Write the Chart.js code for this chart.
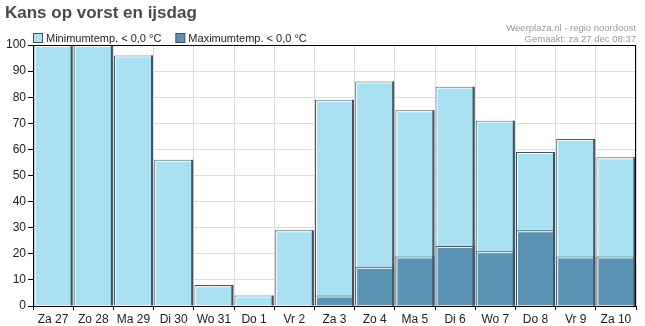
<!DOCTYPE html>
<html>
<head>
<meta charset="utf-8">
<style>
  html, body { margin: 0; padding: 0; background: #fff; }
  #vorstChart { display: block; }
</style>
<script src="https://cdn.jsdelivr.net/npm/chart.js@4"></script>
</head>
<body>
<canvas id="vorstChart" width="645" height="326"></canvas>
<script>
// dagen en kansen (%)
const days = ['Za 27', 'Zo 28', 'Ma 29', 'Di 30', 'Wo 31', 'Do 1', 'Vr 2', 'Za 3',
              'Zo 4', 'Ma 5', 'Di 6', 'Wo 7', 'Do 8', 'Vr 9', 'Za 10'];
const kansVorst  = [100, 100, 96, 56, 8, 4, 29, 79, 86, 75, 84, 71, 59, 64, 57];
const kansIjsdag = [0, 0, 0, 0, 0, 0, 0, 4, 15, 19, 23, 21, 29, 19, 19];
const yTicks = [0, 10, 20, 30, 40, 50, 60, 70, 80, 90, 100];

const titleText = 'Kans op vorst en ijsdag';
const creditLines = ['Weerplaza.nl - regio noordoost', 'Gemaakt: za 27 dec 08:37'];

const fontFam = '"Liberation Sans", Arial, sans-serif';
const edgeColor = '#44535b';

// highlight on top/left, shadow on the right of every bar
const barBevel = {
    id: 'barBevel',
    afterDatasetDraw(chart, args) {
        const ctx = chart.ctx;
        const area = chart.chartArea;
        ctx.save();
        ctx.beginPath();
        ctx.rect(area.left, area.top, area.right - area.left, area.bottom - area.top);
        ctx.clip();
        args.meta.data.forEach(bar => {
            const p = bar.getProps(['x', 'y', 'base', 'width'], true);
            if (p.base - p.y < 1) return;
            const l = p.x - p.width / 2, r = p.x + p.width / 2;
            ctx.strokeStyle = 'rgba(255,255,255,0.9)';
            ctx.lineWidth = 1;
            ctx.beginPath();
            ctx.moveTo(l + 1.5, p.base);
            ctx.lineTo(l + 1.5, p.y + 1.5);
            ctx.lineTo(r - 2, p.y + 1.5);
            ctx.stroke();
            ctx.strokeStyle = edgeColor;
            ctx.lineWidth = 2;
            ctx.beginPath();
            ctx.moveTo(r - 1, p.y);
            ctx.lineTo(r - 1, p.base);
            ctx.stroke();
        });
        ctx.restore();
    }
};

// title, legend, credits and the black frame
const header = {
    id: 'header',
    afterDraw(chart) {
        const ctx = chart.ctx;
        const area = chart.chartArea;
        ctx.save();

        ctx.strokeStyle = '#000';
        ctx.lineWidth = 1;
        ctx.strokeRect(area.left + 0.5, area.top + 0.5, area.right - area.left - 1, area.bottom - area.top);

        ctx.fillStyle = '#4a4a4a';
        ctx.font = 'bold 17px ' + fontFam;
        ctx.textBaseline = 'middle';
        ctx.textAlign = 'left';
        ctx.fillText(titleText, 5, 13);

        ctx.font = '11px ' + fontFam;
        let x = 33;
        chart.data.datasets.forEach(ds => {
            ctx.fillStyle = ds.backgroundColor;
            ctx.fillRect(x + 0.5, 33.5, 9, 9);
            ctx.strokeStyle = edgeColor;
            ctx.strokeRect(x + 0.5, 33.5, 9, 9);
            ctx.fillStyle = '#222';
            ctx.fillText(ds.label, x + 13, 38.5);
            x += 13 + ctx.measureText(ds.label).width + 14;
        });

        ctx.fillStyle = '#999';
        ctx.font = '9.5px ' + fontFam;
        ctx.textAlign = 'right';
        ctx.fillText(creditLines[0], area.right, 28);
        ctx.fillText(creditLines[1], area.right, 39);
        ctx.restore();
    }
};

const ctx = document.getElementById('vorstChart').getContext('2d');
window.vorstChart = new Chart(ctx, {
    type: 'bar',
    data: {
        labels: days,
        datasets: [{
            label: 'Minimumtemp. < 0,0 °C',
            data: kansVorst,
            backgroundColor: '#a9e1f2',
            borderColor: edgeColor,
            borderWidth: 1,
            order: 2
        }, {
            label: 'Maximumtemp. < 0,0 °C',
            data: kansIjsdag,
            backgroundColor: '#5a93b4',
            borderColor: edgeColor,
            borderWidth: 1,
            order: 1
        }]
    },
    options: {
        responsive: false,
        animation: false,
        maintainAspectRatio: false,
        grouped: false,
        barPercentage: 1,
        categoryPercentage: 0.97,
        layout: { padding: { top: 45, right: 9, left: 0, bottom: 0 } },
        plugins: {
            legend: { display: false },
            title: { display: false },
            tooltip: { enabled: false }
        },
        scales: {
            x: {
                grid: { color: '#dddddd', tickColor: '#000', tickLength: 4, offset: true },
                border: { color: '#000' },
                ticks: { color: '#222', font: { family: fontFam, size: 12 }, padding: 2, maxRotation: 0, autoSkip: false },
                afterFit(scale) { scale.height = 20; }
            },
            y: {
                min: 0,
                max: 100,
                afterBuildTicks(scale) { scale.ticks = yTicks.map(v => ({ value: v })); },
                grid: { color: '#dddddd', tickColor: '#000', tickLength: 5 },
                border: { color: '#000' },
                ticks: { color: '#222', font: { family: fontFam, size: 12 }, padding: 2 },
                afterFit(scale) { scale.width = 33; }
            }
        }
    },
    plugins: [barBevel, header]
});
</script>
</body>
</html>
